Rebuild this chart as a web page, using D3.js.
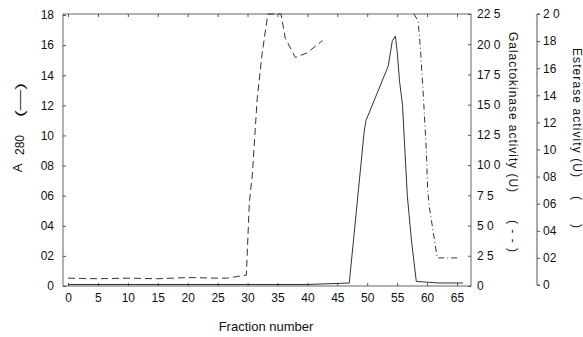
<!DOCTYPE html>
<html><head><meta charset="utf-8">
<script src="https://cdn.jsdelivr.net/npm/d3@7"></script>
<style>
body{margin:0;background:#fff}
svg{display:block}
text{font-family:"Liberation Sans",Arial,Helvetica,sans-serif;fill:#111}
</style>
</head><body>
<svg id="chart" width="583" height="337"></svg>
<script>
// ---- data ----
const fractionTicks = [0,5,10,15,20,25,30,35,40,45,50,55,60,65];
const a280Ticks  = [0,0.2,0.4,0.6,0.8,1.0,1.2,1.4,1.6,1.8];
const a280Labels = ["0","02","04","06","08","10","12","14","16","18"];
const galkTicks  = [0,2.5,5,7.5,10,12.5,15,17.5,20,22.5];
const galkLabels = ["0","2 5","5 0","7 5","10 0","12 5","15 0","17 5","20 0","22 5"];
const estTicks   = [0,0.2,0.4,0.6,0.8,1.0,1.2,1.4,1.6,1.8,2.0];
const estLabels  = ["0","02","04","06","08","10","12","14","16","18","2 0"];

// A280 (solid)
const a280Fraction = [0,10,20,30,40,47,49.5,49.8,53.5,54.2,54.7,55.0,55.4,55.9,56.2,56.7,57.0,57.4,58.2,62,66];
const a280Values   = [0.01,0.01,0.01,0.01,0.01,0.02,1.03,1.10,1.46,1.63,1.66,1.56,1.36,1.20,0.97,0.60,0.47,0.30,0.03,0.02,0.02];
// Galactokinase activity (dashed)
const galkFraction = [0,5,10,15,20,25,26.5,29.8,30.3,30.8,31.6,32.4,33.4,35.6,36.3,38,40,42.5];
const galkValues   = [0.65,0.6,0.65,0.6,0.7,0.65,0.65,0.9,6.9,9.2,15.4,19.1,22.5,22.5,20.5,18.9,19.3,20.3];
// Esterase activity (dash-dot)
const estFraction = [57.8,58.5,58.9,59.4,59.9,60.1,60.4,61.1,61.7,62.5,64,65.5];
const estValues   = [2.0,1.95,1.74,1.38,0.97,0.70,0.57,0.37,0.20,0.20,0.20,0.20];

// ---- layout ----
const svg = d3.select("#chart");
const pLeft = 63, pRight = 471, pTop = 14, pBottom = 286, estAxisX = 537;
const x  = d3.scaleLinear().domain([0,65]).range([68,457]);
const yA = d3.scaleLinear().domain([0,1.8]).range([pBottom, pTop+1]);
const yG = d3.scaleLinear().domain([0,22.5]).range([pBottom, pTop]);
const yE = d3.scaleLinear().domain([0,2.0]).range([pBottom-1, pTop]);

svg.append("defs").append("clipPath").attr("id","plot")
  .append("rect").attr("x",pLeft).attr("y",pTop-1).attr("width",pRight-pLeft).attr("height",pBottom-pTop+2);

const axisColor = "#555";
svg.append("rect").attr("x",pLeft).attr("y",pTop).attr("width",pRight-pLeft).attr("height",pBottom-pTop)
  .attr("fill","none").attr("stroke",axisColor).attr("stroke-width",0.9);

const xb = svg.append("g").attr("transform",`translate(0,${pBottom})`)
  .call(d3.axisBottom(x).tickValues(fractionTicks).tickSize(-3).tickPadding(7).tickFormat(d=>String(d)));
xb.select(".domain").remove();
xb.selectAll("line").attr("stroke",axisColor);
xb.selectAll("text").attr("font-size",12);
const xt = svg.append("g").attr("transform",`translate(0,${pTop})`)
  .call(d3.axisTop(x).tickValues(fractionTicks).tickSize(-3).tickFormat(""));
xt.select(".domain").remove();
xt.selectAll("line").attr("stroke",axisColor);

const ya = svg.append("g").attr("transform",`translate(${pLeft},0)`)
  .call(d3.axisLeft(yA).tickValues(a280Ticks).tickSize(-3).tickPadding(9).tickFormat((d,i)=>a280Labels[i]));
ya.select(".domain").remove();
ya.selectAll("line").attr("stroke",axisColor);
ya.selectAll("text").attr("font-size",12);

const yg = svg.append("g").attr("transform",`translate(${pRight},0)`)
  .call(d3.axisRight(yG).tickValues(galkTicks).tickSize(-3).tickPadding(6).tickFormat((d,i)=>galkLabels[i]));
yg.select(".domain").remove();
yg.selectAll("line").attr("stroke",axisColor);
yg.selectAll("text").attr("font-size",12);

const ye = svg.append("g").attr("transform",`translate(${estAxisX},0)`)
  .call(d3.axisRight(yE).tickValues(estTicks).tickSize(3).tickPadding(3).tickFormat((d,i)=>estLabels[i]));
ye.select(".domain").attr("stroke",axisColor).attr("d",`M3,${yE(2.0)}H0V${yE(0)}H3`);
ye.selectAll("line").attr("stroke",axisColor);
ye.selectAll("text").attr("font-size",12);

// ---- series ----
const g = svg.append("g").attr("clip-path","url(#plot)");
const lineA = d3.line().x((d,i)=>x(a280Fraction[i])).y(d=>yA(d));
const lineG = d3.line().x((d,i)=>x(galkFraction[i])).y(d=>yG(d));
const lineE = d3.line().x((d,i)=>x(estFraction[i])).y(d=>yE(d));
g.append("path").attr("d",lineA(a280Values)).attr("fill","none").attr("stroke","#333").attr("stroke-width",1);
g.append("path").attr("d",lineG(galkValues)).attr("fill","none").attr("stroke","#333").attr("stroke-width",1).attr("stroke-dasharray","7,4");
g.append("path").attr("d",lineE(estValues)).attr("fill","none").attr("stroke","#333").attr("stroke-width",1).attr("stroke-dasharray","6,3,1,3");

// ---- titles ----
svg.append("text").attr("x",266).attr("y",331).attr("text-anchor","middle").attr("font-size",13).text("Fraction number");

// left title, rotated
function rotL(cx, cy, txt, size){
  return svg.append("text").attr("transform",`translate(${cx},${cy}) rotate(-90)`)
    .attr("text-anchor","middle").attr("font-size",size).text(txt);
}
rotL(22,168,"A",13);
rotL(24,145,"280",12);
rotL(24,100,"(\u2014)",13).attr("textLength",34).attr("lengthAdjust","spacingAndGlyphs");

function rotR(cx, cy, txt, size){
  return svg.append("text").attr("transform",`translate(${cx},${cy}) rotate(90)`)
    .attr("font-size",size).text(txt);
}
rotR(509,32,"Galactokinase activity (U)",12).attr("textLength",160);
rotR(509,220,"( - - )",12).attr("textLength",32);
rotR(573,48,"Esterase activity (U)",12).attr("textLength",129);
rotR(573,196,"(",12);
rotR(573,224,")",12);
</script>
</body></html>
